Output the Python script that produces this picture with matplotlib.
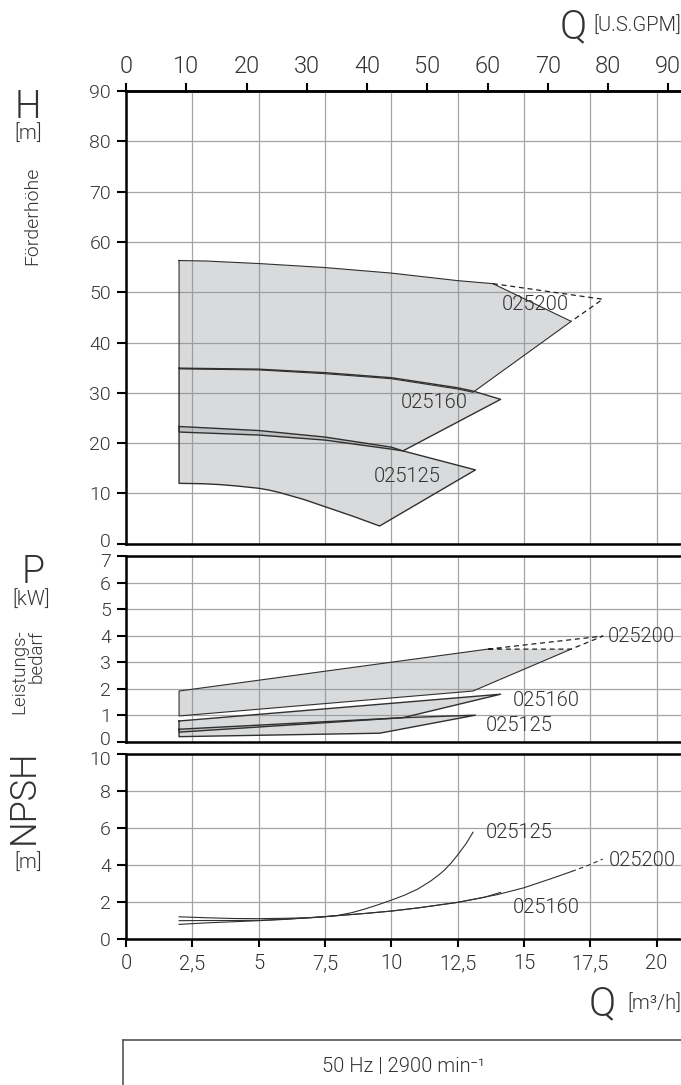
import numpy as np
import matplotlib.pyplot as plt
from matplotlib.transforms import ScaledTranslation

plt.rcParams['font.family'] = ['Roboto', 'DejaVu Sans']
plt.rcParams['font.weight'] = 300

TXT = '#333333'
FILL = '#8c8f94'

# axes ticks
q_ticks = [0, 2.5, 5, 7.5, 10, 12.5, 15, 17.5, 20]
q_labels = ['0', '2,5', '5', '7,5', '10', '12,5', '15', '17,5', '20']
gpm_ticks = [0, 10, 20, 30, 40, 50, 60, 70, 80, 90]
h_ticks = [0, 10, 20, 30, 40, 50, 60, 70, 80, 90]
p_ticks = [0, 1, 2, 3, 4, 5, 6, 7]
n_ticks = [0, 2, 4, 6, 8, 10]

# H (Förderhöhe) areas, m3/h vs m
h200_q = [2.0, 3.0, 5.0, 7.5, 10.0, 12.5, 13.83, 16.78, 13.08, 12.5, 10.0, 7.5, 5.0, 2.0]
h200_h = [56.3, 56.2, 55.7, 54.9, 53.8, 52.3, 51.7, 44.2, 30.1, 30.75, 32.8, 33.8, 34.55, 34.75]
h200_dash_q = [13.83, 17.97, 16.78]
h200_dash_h = [51.7, 48.6, 44.2]
h160_q = [2.0, 5.0, 7.5, 10.0, 12.5, 13.08, 14.12, 10.44, 10.0, 7.5, 5.0, 2.0]
h160_h = [34.9, 34.7, 34.0, 33.0, 31.0, 30.35, 28.7, 18.45, 18.8, 20.6, 21.6, 22.2]
h125_q = [2.0, 5.0, 7.5, 10.0, 10.44, 13.17, 9.56, 8.56, 7.5, 6.68, 5.8, 5.4, 5.0, 4.17, 3.54, 2.91, 2.0]
h125_h = [23.3, 22.5, 21.2, 19.2, 18.45, 14.67, 3.52, 5.45, 7.36, 8.83, 10.15, 10.65, 11.02, 11.48, 11.75, 11.92, 12.0]

# P (Leistungsbedarf) areas, kW
p200_q = [2.0, 13.64, 16.78, 13.08, 2.0]
p200_p = [1.91, 3.49, 3.49, 1.91, 0.97]
p200_dash_q = [13.64, 17.97, 16.78, 13.64]
p200_dash_p = [3.49, 3.98, 3.49, 3.49]
p160_q = [2.0, 14.12, 10.44, 2.0]
p160_p = [0.78, 1.79, 0.905, 0.36]
p125_q = [2.0, 10.44, 13.17, 9.56, 2.0]
p125_p = [0.47, 0.905, 1.0, 0.32, 0.19]

# NPSH curves, m
n125_q = [2, 3, 4, 5, 6, 7, 7.5, 8, 8.5, 9, 9.5, 10, 10.5, 11, 11.5, 11.82, 12, 12.25, 12.5, 12.83, 13.08]
n125_v = [1.2, 1.15, 1.11, 1.1, 1.12, 1.15, 1.2, 1.28, 1.42, 1.62, 1.85, 2.1, 2.37, 2.7, 3.15, 3.5, 3.72, 4.1, 4.54, 5.18, 5.77]
n200_q = [2, 3, 4, 5, 6, 7.5, 9, 10, 11, 12.5, 14, 15, 16, 16.8]
n200_v = [0.79, 0.87, 0.93, 0.99, 1.06, 1.21, 1.38, 1.51, 1.68, 1.98, 2.4, 2.77, 3.25, 3.65]
n200_dash_q = [16.8, 17.4, 17.97]
n200_dash_v = [3.65, 3.97, 4.32]
n160_q = [2, 3, 4, 5, 6, 7.5, 9, 10, 11, 12.5, 13.5, 14.12]
n160_v = [0.99, 1.0, 1.0, 1.01, 1.07, 1.21, 1.38, 1.51, 1.68, 1.98, 2.25, 2.52]

h_names = [('025200', 14.18, 47.5), ('025160', 10.35, 28.0), ('025125', 9.34, 13.3)]
p_names = [('025200', 18.15, 3.98), ('025160', 14.57, 1.57), ('025125', 13.55, 0.6)]
n_names = [('025125', 13.55, 5.76), ('025200', 18.2, 4.27), ('025160', 14.57, 1.7)]

W, H = 681, 1085
fig = plt.figure(figsize=(W / 100, H / 100), dpi=100)


def px(x, y):
    return x / W, 1 - y / H


def panel(top, bottom, ylim, yticks):
    x0, y0 = px(126, bottom)
    _, y1 = px(126, top)
    ax = fig.add_axes([x0, y0, 1 - x0, y1 - y0])
    ax.set_xlim(0, 555 / 26.53)
    ax.set_ylim(*ylim)
    ax.set_xticks(q_ticks)
    ax.set_yticks(yticks)
    ax.set_axisbelow(True)
    ax.grid(True, color='#a5a5a5', lw=0.9)
    ax.spines['right'].set_visible(False)
    for s in ['left', 'top', 'bottom']:
        ax.spines[s].set_linewidth(1.8)
    ax.tick_params(axis='y', direction='out', length=6.3, width=1.5,
                   labelsize=14, labelcolor=TXT, pad=4.5)
    ax.tick_params(axis='x', length=0, labelbottom=False)
    return ax


def area(ax, q, v, lw=0.8):
    ax.fill(q, v, facecolor=FILL, alpha=0.33, edgecolor='none', zorder=2)
    ax.plot(q + q[:1], v + v[:1], color='#303030', lw=lw, zorder=3)


def nudge(label, dy):
    label.set_transform(label.get_transform() + ScaledTranslation(0, dy / 72, fig.dpi_scale_trans))


axH = panel(91, 543.7, (0, 90), h_ticks)
axP = panel(556, 741.7, (0, 7), p_ticks)
axN = panel(754, 939, (0, 10), n_ticks)

# H
area(axH, h200_q, h200_h)
area(axH, h160_q, h160_h, lw=1.0)
area(axH, h125_q, h125_h, lw=1.0)
axH.plot(h200_dash_q, h200_dash_h, color='#202020', lw=0.9, ls=(0, (4, 3)), zorder=3)
sec = axH.secondary_xaxis('top', functions=(lambda q: q / 0.2271247, lambda g: g * 0.2271247))
sec.set_xticks(gpm_ticks)
sec.tick_params(direction='out', length=6, width=1.5, labelsize=17, labelcolor=TXT, pad=3)
sec.spines['top'].set_linewidth(1.8)

# P
axP.fill(p200_q, p200_p, facecolor=FILL, alpha=0.33, edgecolor='none', zorder=2)
axP.plot([p200_q[1], p200_q[0], p200_q[4], p200_q[3], p200_q[2]],
         [p200_p[1], p200_p[0], p200_p[4], p200_p[3], p200_p[2]], color='#303030', lw=0.8, zorder=3)
axP.plot(p200_dash_q, p200_dash_p, color='#202020', lw=0.9, ls=(0, (4, 3)), zorder=3)
area(axP, p160_q, p160_p, lw=1.0)
area(axP, p125_q, p125_p, lw=1.0)

# NPSH
axN.plot(n125_q, n125_v, color='#303030', lw=0.8)
axN.plot(n200_q, n200_v, color='#303030', lw=0.8)
axN.plot(n200_dash_q, n200_dash_v, color='#303030', lw=0.8, ls=(0, (4, 3)))
axN.plot(n160_q, n160_v, color='#303030', lw=0.8)
axN.set_xticklabels(q_labels)
axN.tick_params(axis='x', direction='out', length=6, width=1.5, labelbottom=True,
                labelsize=14.5, labelcolor=TXT, pad=5)

# keep the stacked end labels of neighbouring panels apart
nudge(axH.get_yticklabels()[0], 3)
nudge(axP.get_yticklabels()[-1], -3)
nudge(axP.get_yticklabels()[0], 3)
nudge(axN.get_yticklabels()[-1], -3)

for ax, names in [(axH, h_names), (axP, p_names), (axN, n_names)]:
    for name, qx, vy in names:
        ax.text(qx, vy, name, ha='left', va='center', fontsize=14.5, color=TXT, zorder=4)

# axis titles
fig.text(*px(573, 27), 'Q', fontsize=29, color=TXT, ha='center', va='center')
fig.text(*px(593, 26), '[U.S.GPM]', fontsize=14.5, color=TXT, ha='left', va='center')
fig.text(*px(602, 1004), 'Q', fontsize=29, color=TXT, ha='center', va='center')
fig.text(*px(627, 1004), '[m³/h]', fontsize=14.5, color=TXT, ha='left', va='center')

fig.text(*px(28, 107), 'H', fontsize=27, color=TXT, ha='center', va='center')
fig.text(*px(28, 134), '[m]', fontsize=14.5, color=TXT, ha='center', va='center')
fig.text(*px(32, 216), 'Förderhöhe', fontsize=14, color=TXT, ha='center', va='center', rotation=90)
fig.text(*px(33, 572), 'P', fontsize=27, color=TXT, ha='center', va='center')
fig.text(*px(31, 600), '[kW]', fontsize=14.5, color=TXT, ha='center', va='center')
fig.text(*px(28, 672), 'Leistungs-\nbedarf', fontsize=13.5, color=TXT, ha='center', va='center',
         rotation=90, multialignment='right', linespacing=0.95)
fig.text(*px(24, 797), 'NPSH', fontsize=26, color=TXT, ha='center', va='center', rotation=90)
fig.text(*px(28, 863), '[m]', fontsize=14.5, color=TXT, ha='center', va='center')

# speed box
fig.add_artist(plt.Line2D([123 / W, 1], [1 - 1040 / H] * 2, color='#555555', lw=1.2))
fig.add_artist(plt.Line2D([123 / W] * 2, [1 - 1040 / H, 0], color='#555555', lw=1.2))
fig.text(*px(403, 1066), '50 Hz | 2900 min⁻¹', fontsize=14.5, color=TXT, ha='center', va='center')

fig.savefig('out.png', dpi=100)
